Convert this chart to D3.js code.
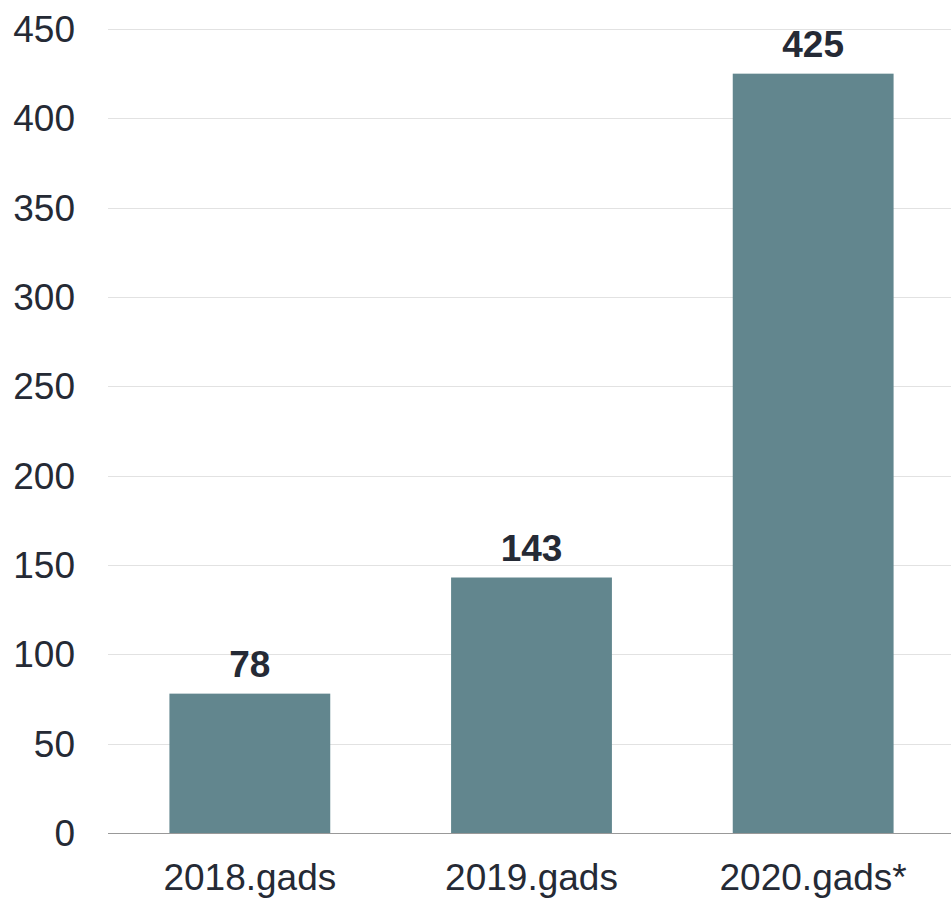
<!DOCTYPE html>
<html>
<head>
<meta charset="utf-8">
<script src="https://cdn.jsdelivr.net/npm/d3@7"></script>
<style>
  body { margin: 0; background: #fff; }
  text { font-family: "Liberation Sans", Arial, sans-serif; fill: #252a35; }
</style>
</head>
<body>
<div id="chart"></div>
<script>
const categories = ['2018.gads', '2019.gads', '2020.gads*']
const values = [78, 143, 425]
const yTicks = [0, 50, 100, 150, 200, 250, 300, 350, 400, 450]

const width = 951, height = 898
const margin = { top: 29, right: 0, bottom: 65, left: 108 }

const svg = d3.select('#chart')
  .append('svg')
    .attr('width', width)
    .attr('height', height)

const x = d3.scaleBand()
  .domain(categories)
  .range([109, 954])
  .paddingInner(0.429)
  .paddingOuter(0.2145)

const y = d3.scaleLinear()
  .domain([0, 450])
  .range([height - margin.bottom, margin.top])

// gridlines
svg.append('g')
  .selectAll('line')
  .data(yTicks.filter(d => d > 0))
  .enter()
  .append('line')
    .attr('x1', margin.left)
    .attr('x2', width)
    .attr('y1', d => Math.round(y(d)) + 0.5)
    .attr('y2', d => Math.round(y(d)) + 0.5)
    .style('stroke', '#e2e2e2')
    .style('stroke-width', 1)

// y tick labels
svg.append('g')
  .selectAll('text')
  .data(yTicks)
  .enter()
  .append('text')
    .attr('x', 75)
    .attr('y', d => y(d))
    .attr('dy', '0.35em')
    .attr('text-anchor', 'end')
    .style('font-size', '37px')
    .text(d => d)

// bars
svg.append('g')
  .selectAll('rect')
  .data(values)
  .enter()
  .append('rect')
    .attr('x', (d, i) => x(categories[i]))
    .attr('y', d => y(d))
    .attr('width', x.bandwidth())
    .attr('height', d => y(0) - y(d))
    .style('fill', '#62868e')

// value labels
svg.append('g')
  .selectAll('text')
  .data(values)
  .enter()
  .append('text')
    .attr('x', (d, i) => x(categories[i]) + x.bandwidth() / 2)
    .attr('y', d => y(d) - 17)
    .attr('text-anchor', 'middle')
    .style('font-size', '37px')
    .style('font-weight', 'bold')
    .text(d => d)

// x axis line
svg.append('line')
  .attr('x1', margin.left)
  .attr('x2', width)
  .attr('y1', Math.round(y(0)) + 0.5)
  .attr('y2', Math.round(y(0)) + 0.5)
  .style('stroke', '#999')
  .style('stroke-width', 1)

// x labels
svg.append('g')
  .selectAll('text')
  .data(categories)
  .enter()
  .append('text')
    .attr('x', d => x(d) + x.bandwidth() / 2)
    .attr('y', 890)
    .attr('text-anchor', 'middle')
    .style('font-size', '37px')
    .text(d => d)
</script>
</body>
</html>
